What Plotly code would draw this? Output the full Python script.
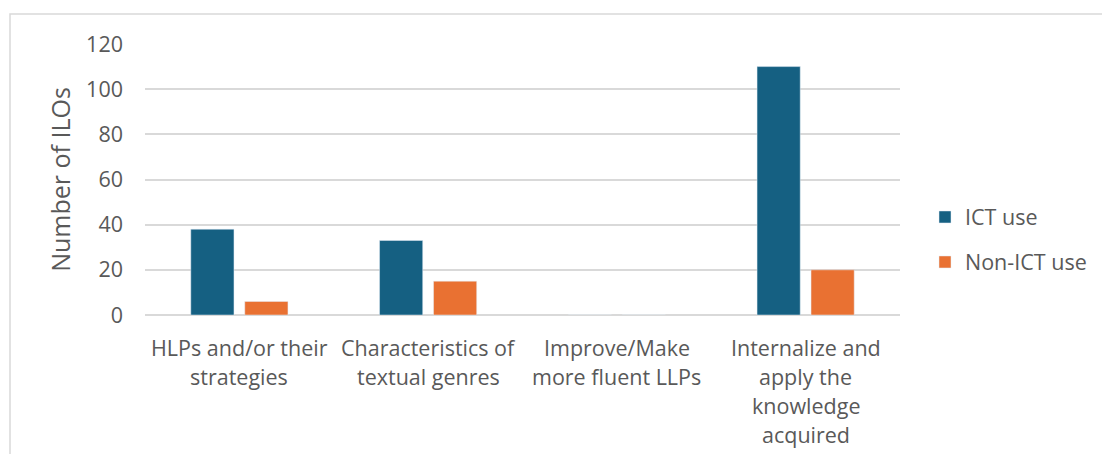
import plotly.graph_objects as go

categories = ["HLPs and/or their strategies", "Characteristics of textual genres",
              "Improve/Make more fluent LLPs", "Internalize and apply the knowledge acquired"]
label_lines = [["HLPs and/or their", "strategies"],
               ["Characteristics of", "textual genres"],
               ["Improve/Make", "more fluent LLPs"],
               ["Internalize and", "apply the", "knowledge", "acquired"]]
ict_use = [38, 33, 0, 110]
non_ict_use = [6, 15, 0, 20]
y_ticks = [0, 20, 40, 60, 80, 100, 120]

W, H = 1102, 454
L, R, T, B = 145, 202, 44, 139
pw, ph = W - L - R, H - T - B

def px(x):
    return (x - L) / pw

def py(y):
    return (H - B - y) / ph

FONT = "Open Sans"
GRAY = "#595959"
FS = 21.5

fig = go.Figure()
fig.add_trace(go.Bar(x=categories, y=ict_use, name="ICT use", marker_color="#156082",
                     legend="legend", showlegend=True))
fig.add_trace(go.Bar(x=categories, y=non_ict_use, name="Non-ICT use", marker_color="#E97132",
                     legend="legend2", showlegend=True))

annotations = []
for cat, lines in zip(categories, label_lines):
    for k, line in enumerate(lines):
        annotations.append(dict(x=cat, xref="x", y=0, yref="paper", text=line,
                                showarrow=False, xanchor="center", yanchor="middle",
                                yshift=-(347 - (H - B)) - k * 29.3,
                                font=dict(family=FONT, size=FS, color=GRAY)))

fig.update_layout(
    width=W, height=H,
    margin=dict(l=L, r=R, t=T, b=B, pad=0, autoexpand=False),
    paper_bgcolor="white", plot_bgcolor="white",
    barmode="group", bargap=0.428, bargroupgap=0.2,
    showlegend=True,
    font=dict(family=FONT, size=FS, color=GRAY),
    xaxis=dict(showticklabels=False, showgrid=False, showline=False, zeroline=False,
               ticks=""),
    yaxis=dict(range=[0, 120], tickvals=y_ticks, showgrid=True, gridcolor="#D9D9D9",
               gridwidth=1.5, zeroline=True, zerolinecolor="#D9D9D9", zerolinewidth=1.5,
               showline=False, ticks="", ticklabelstandoff=21,
               tickfont=dict(family=FONT, size=FS, color=GRAY),
               title=dict(text="Number of ILOs", standoff=8,
                          font=dict(family=FONT, size=25, color=GRAY))),
    legend=dict(x=px(925), y=py(217), xanchor="left", yanchor="middle",
                font=dict(family=FONT, size=FS, color=GRAY), bgcolor="rgba(0,0,0,0)"),
    legend2=dict(x=px(925), y=py(262), xanchor="left", yanchor="middle",
                 font=dict(family=FONT, size=FS, color=GRAY), bgcolor="rgba(0,0,0,0)"),
    annotations=annotations,
    shapes=[dict(type="rect", xref="paper", yref="paper",
                 x0=px(10), x1=px(1110), y0=py(470), y1=py(14),
                 line=dict(color="#D9D9D9", width=1.5), fillcolor="rgba(0,0,0,0)",
                 layer="below")],
)

fig.write_html("out.html")
